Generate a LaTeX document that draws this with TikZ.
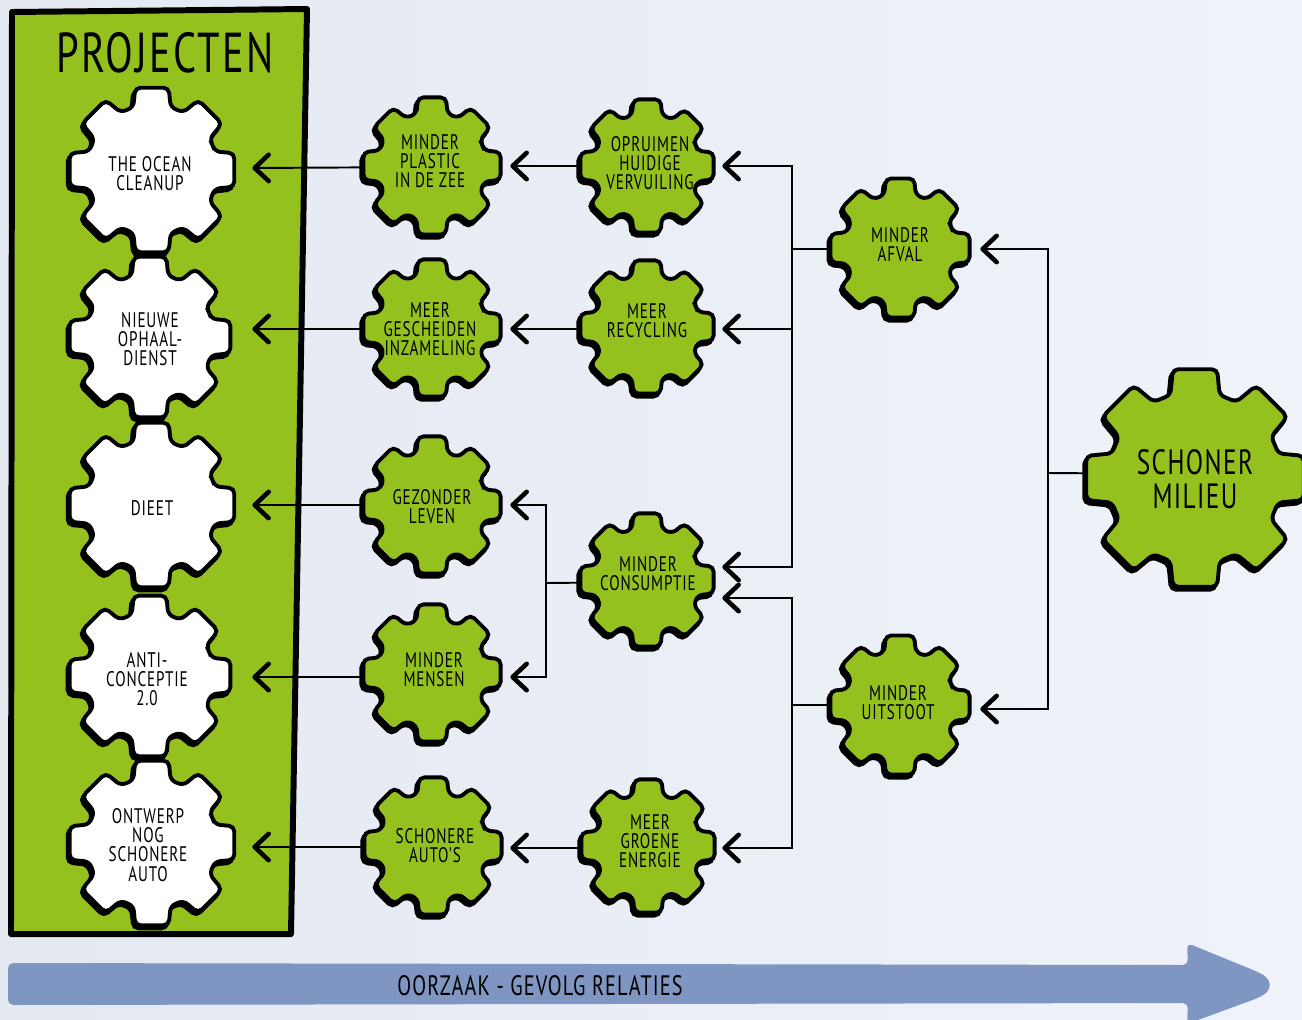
\documentclass[tikz,border=0pt]{standalone}
\usepackage{fontspec}
\newfontfamily\handfont{PT Sans}[FakeStretch=0.72, LetterSpace=4]
\usetikzlibrary{arrows.meta,calc}

\definecolor{leaf}{HTML}{95C11F}
\definecolor{bgleft}{HTML}{E4E9F2}
\definecolor{bgright}{HTML}{EFF3F9}
\definecolor{flow}{HTML}{7F95C2}

\newcommand\gearfont{\handfont\fontsize{12}{10.9}\selectfont}

% outline of an eight-toothed gear with outer radius #1 (root radius in \gearroot)
\newcommand\gearpath[1]{(-22.5:\gearroot) \foreach \a in {0,45,...,315}{ -- (\a-16.5:\gearroot) -- (\a-11.5:#1) -- (\a+11.5:#1) -- (\a+16.5:\gearroot)} -- cycle}

% gear with a dark offset rim: centre, outer radius, fill colour
\newcommand\drawgear[3]{%
  \pgfmathsetmacro\gearroot{0.78*#2}%
  \begin{scope}[shift={#1}]
    \begin{scope}[shift={(-2,3)}]
      \filldraw[black, line width=2.2pt, rounded corners=3pt] \gearpath{#2};
    \end{scope}
    \filldraw[fill=#3, draw=black, line width=2.2pt, rounded corners=3pt] \gearpath{#2};
  \end{scope}}

\tikzset{
  port/.style={circle, draw=none, inner sep=0pt, minimum size=#1},
  conn/.style={line width=1.1pt, black},
  arr/.style={conn, -{Straight Barb[length=8pt,width=15pt,line width=2.6pt,round]}},
  lbl/.style={align=center, font=\gearfont, inner sep=0pt, text=black},
}

\begin{document}
\begin{tikzpicture}[x=0.02cm, y=-0.02cm]
  % canvas
  \shade[left color=bgleft, right color=bgright] (0,0) rectangle (1302,1019);
  \useasboundingbox (0,0) rectangle (1302,1019);

  % project panel
  \filldraw[fill=leaf, draw=black, line width=3.4pt, line join=round]
    (12,12) -- (307,9) -- (291,934) -- (11,934) -- cycle;
  \node[font=\handfont\fontsize{32}{32}\selectfont, inner sep=0pt] (title) at (165,53) {PROJECTEN};

  % cause-effect arrow
  \fill[flow, rounded corners=3pt]
    (8,963) -- (1188,965) -- (1187,943) -- (1258,972)
    .. controls (1272,980) and (1272,990) .. (1258,998)
    -- (1187,1024) -- (1188,1003) -- (8,1005) -- cycle;
  \node[font=\handfont\fontsize{16}{16}\selectfont, inner sep=0pt] (causal) at (540,986) {OORZAAK - GEVOLG RELATIES};

  % anchor circles for the gears (connectors attach to these)
  \node[port=4cm]    (ocean)   at (152,168) {};
  \node[port=4cm]    (ophaal)  at (152,331) {};
  \node[port=4cm]    (dieet)   at (152,505) {};
  \node[port=4cm]    (anti)    at (152,677) {};
  \node[port=4cm]    (ontwerp) at (152,846) {};
  \node[port=3.12cm] (plastic) at (432,167) {};
  \node[port=3.12cm] (gescheiden) at (432,329) {};
  \node[port=3.12cm] (gezonder) at (432,505) {};
  \node[port=3.12cm] (mensen)  at (432,677) {};
  \node[port=3.12cm] (autos)   at (432,847) {};
  \node[port=3.0cm]  (opruimen) at (647,166) {};
  \node[port=3.0cm]  (recycling) at (647,329) {};
  \node[port=3.0cm]  (consumptie) at (647,582) {};
  \node[port=3.0cm]  (groene)  at (647,848) {};
  \node[port=3.2cm]  (afval)   at (900,249) {};
  \node[port=3.2cm]  (uitstoot) at (900,709) {};
  \node[port=4.4cm]  (milieu)  at (1195,474) {};

  \coordinate (cinA) at ($(consumptie.east)+(0,-15)$);
  \coordinate (cinB) at ($(consumptie.east)+(0,16)$);
  \coordinate (jLeft)  at (546,583);
  \coordinate (jAfval) at (792,249);
  \coordinate (jUit)   at (792,705);
  \coordinate (jMil)   at (1048,473);

  % connectors
  \draw[arr] (plastic.center) -- (ocean.east);
  \draw[arr] (gescheiden.center) -- (gescheiden.center -| ophaal.east);
  \draw[arr] (gezonder.center) -- (dieet.east);
  \draw[arr] (mensen.center) -- (anti.east);
  \draw[arr] (autos.center) -- (autos.center -| ontwerp.east);
  \draw[arr] (opruimen.center) -- (opruimen.center -| plastic.east);
  \draw[arr] (recycling.center) -- (gescheiden.east);
  \draw[arr] (groene.center) -- (groene.center -| autos.east);
  \draw[conn] (consumptie.center) -- (jLeft);
  \draw[arr] (jLeft) |- (gezonder.east);
  \draw[arr] (jLeft) |- (mensen.east);
  \draw[conn] (afval.center) -- (jAfval);
  \draw[arr] (jAfval) |- (opruimen.east);
  \draw[arr] (jAfval) |- (recycling.east);
  \draw[arr] (jAfval) |- (cinA);
  \draw[conn] (uitstoot.center) |- (jUit);
  \draw[arr] (jUit) |- (cinB);
  \draw[arr] (jUit) |- (groene.east);
  \draw[conn] (milieu.center) -- (jMil);
  \draw[arr] (jMil) |- (afval.east);
  \draw[arr] (jMil) |- (uitstoot.east);

  % gears
  \drawgear{(152,170)}{84}{white}
  \drawgear{(150,337)}{82}{white}
  \drawgear{(152,505)}{84}{white}
  \drawgear{(150,676)}{82}{white}
  \drawgear{(152,843)}{84}{white}
  \drawgear{(432,166)}{70}{leaf}
  \drawgear{(432,328)}{70}{leaf}
  \drawgear{(432,505)}{70}{leaf}
  \drawgear{(432,673)}{70}{leaf}
  \drawgear{(433,846)}{70}{leaf}
  \drawgear{(647,166)}{68}{leaf}
  \drawgear{(647,327)}{68}{leaf}
  \drawgear{(647,580)}{68}{leaf}
  \drawgear{(648,846)}{68}{leaf}
  \drawgear{(900,248)}{71}{leaf}
  \drawgear{(900,705)}{71}{leaf}
  \drawgear{(1195,478)}{111}{leaf}

  % gear labels
  \node[lbl] (tOcean)   at (150,174) {THE OCEAN\\CLEANUP};
  \node[lbl] (tOphaal)  at (150,339) {NIEUWE\\OPHAAL-\\DIENST};
  \node[lbl] (tDieet)   at (152,508) {DIEET};
  \node[lbl] (tAnti)    at (147,679) {ANTI-\\CONCEPTIE\\2.0};
  \node[lbl] (tOntwerp) at (148,845) {ONTWERP\\NOG\\SCHONERE\\AUTO};
  \node[lbl] (tPlastic) at (430,161) {MINDER\\PLASTIC\\IN DE ZEE};
  \node[lbl] (tGesch)   at (430,329) {MEER\\GESCHEIDEN\\INZAMELING};
  \node[lbl] (tGez)     at (432,507) {GEZONDER\\LEVEN};
  \node[lbl] (tMensen)  at (434,670) {MINDER\\MENSEN};
  \node[lbl] (tAutos)   at (435,846) {SCHONERE\\AUTO'S};
  \node[lbl] (tOpr)     at (650,163) {OPRUIMEN\\HUIDIGE\\VERVUILING};
  \node[lbl] (tRec)     at (647,321) {MEER\\RECYCLING};
  \node[lbl] (tCons)    at (648,574) {MINDER\\CONSUMPTIE};
  \node[lbl] (tGroene)  at (650,841) {MEER\\GROENE\\ENERGIE};
  \node[lbl] (tAfval)   at (900,245) {MINDER\\AFVAL};
  \node[lbl] (tUit)     at (898,703) {MINDER\\UITSTOOT};
  \node[lbl, font=\handfont\fontsize{20}{19.5}\selectfont] (tMilieu) at (1195,479) {SCHONER\\MILIEU};
\end{tikzpicture}
\end{document}
